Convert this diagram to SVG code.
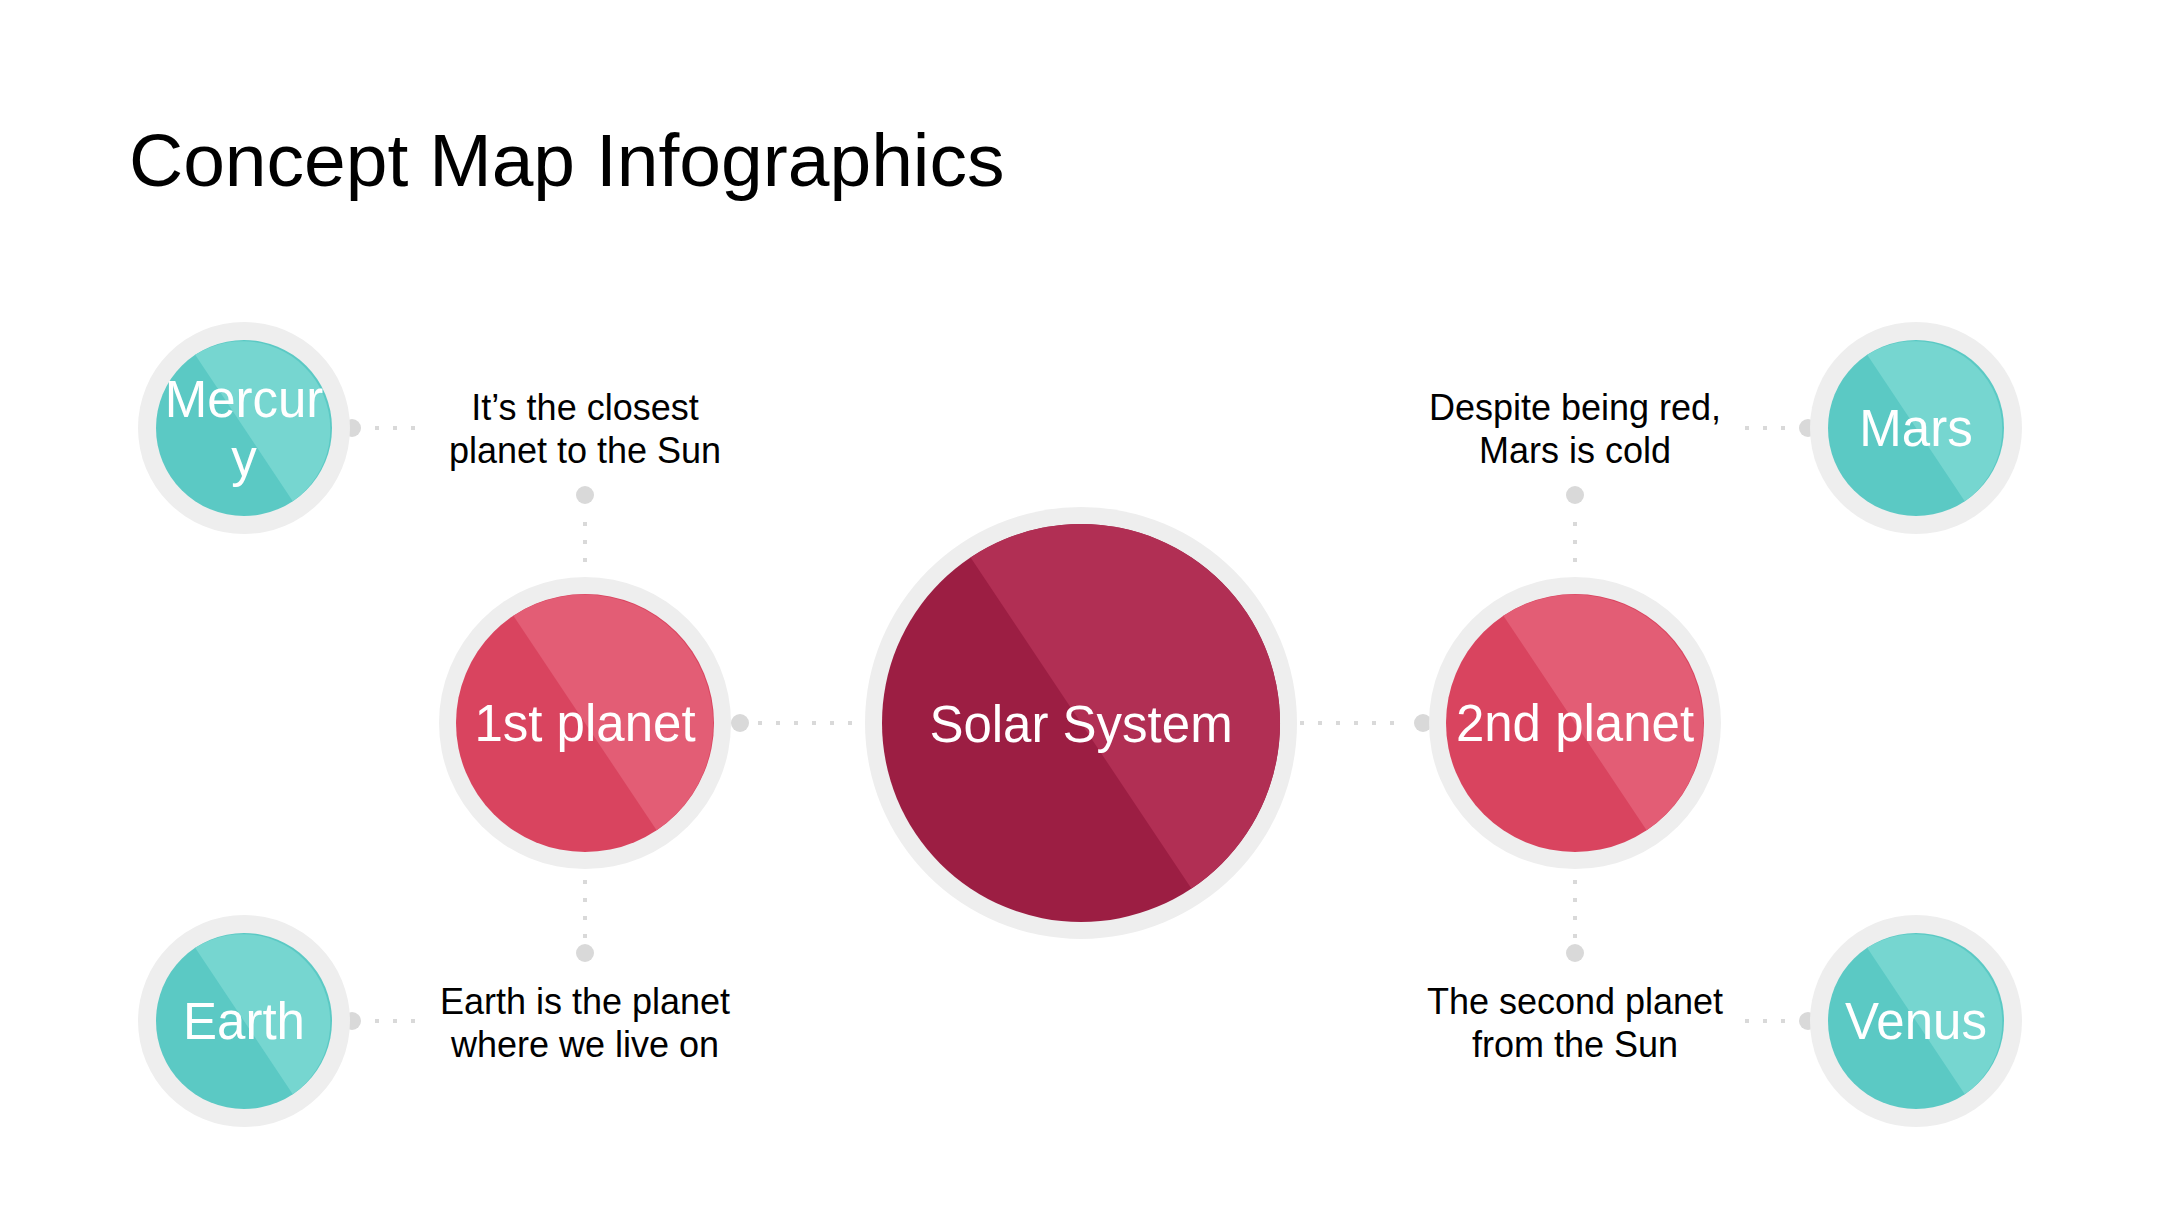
<svg xmlns="http://www.w3.org/2000/svg" width="2160" height="1215" viewBox="0 0 2160 1215">
<style>
.ring{fill:#EEEEEE}
.teal-d{fill:#5BC9C4}.teal-l{fill:#76D6D0}
.red-d{fill:#D9445F}.red-l{fill:#E35D75}
.sun-d{fill:#9C1E43}.sun-l{fill:#B12F54}
.lbl{font-family:"Liberation Sans",Arial,sans-serif;fill:#FFFFFF;text-anchor:middle;font-size:51px}
.desc{font-family:"Liberation Sans",Arial,sans-serif;fill:#000000;text-anchor:middle;font-size:36px}
.title{font-family:"Liberation Sans",Arial,sans-serif;fill:#000000;font-size:75px}
.dash{stroke:#D9D9D9;stroke-width:4;stroke-dasharray:4 14;fill:none}
.dot{fill:#D9D9D9}
</style>
<rect width="2160" height="1215" fill="#FFFFFF"/>
<text class="title" x="129" y="186">Concept Map Infographics</text>

<g id="connectors">
<line class="dash" x1="375" y1="428" x2="417" y2="428"/><circle class="dot" cx="352" cy="428" r="9"/>
<line class="dash" x1="585" y1="522" x2="585" y2="566"/><circle class="dot" cx="585" cy="495" r="9"/>
<line class="dash" x1="758" y1="723" x2="866" y2="723"/><circle class="dot" cx="740" cy="723" r="9"/>
<line class="dash" x1="1300" y1="723" x2="1408" y2="723"/><circle class="dot" cx="1423" cy="723" r="9"/>
<line class="dash" x1="585" y1="880" x2="585" y2="940"/><circle class="dot" cx="585" cy="953" r="9"/>
<line class="dash" x1="1575" y1="522" x2="1575" y2="566"/><circle class="dot" cx="1575" cy="495" r="9"/>
<line class="dash" x1="1575" y1="880" x2="1575" y2="940"/><circle class="dot" cx="1575" cy="953" r="9"/>
<line class="dash" x1="375" y1="1021" x2="417" y2="1021"/><circle class="dot" cx="352" cy="1021" r="9"/>
<line class="dash" x1="1745" y1="428" x2="1789" y2="428"/><circle class="dot" cx="1808" cy="428" r="9"/>
<line class="dash" x1="1745" y1="1021" x2="1789" y2="1021"/><circle class="dot" cx="1808" cy="1021" r="9"/>
</g>

<g id="mercury" transform="translate(244,428)">
<circle class="ring" r="106"/>
<circle class="teal-d" r="88"/>
<path class="teal-l" d="M-48.8,-73.2 A88,88 0 0 1 48.8,73.2 Z"/>
<text class="lbl" x="0" y="-11">Mercur</text>
<text class="lbl" x="0" y="48">y</text>
</g>

<g id="earth" transform="translate(244,1021)">
<circle class="ring" r="106"/>
<circle class="teal-d" r="88"/>
<path class="teal-l" d="M-48.8,-73.2 A88,88 0 0 1 48.8,73.2 Z"/>
<text class="lbl" x="0" y="18">Earth</text>
</g>

<g id="mars" transform="translate(1916,428)">
<circle class="ring" r="106"/>
<circle class="teal-d" r="88"/>
<path class="teal-l" d="M-48.8,-73.2 A88,88 0 0 1 48.8,73.2 Z"/>
<text class="lbl" x="0" y="18">Mars</text>
</g>

<g id="venus" transform="translate(1916,1021)">
<circle class="ring" r="106"/>
<circle class="teal-d" r="88"/>
<path class="teal-l" d="M-48.8,-73.2 A88,88 0 0 1 48.8,73.2 Z"/>
<text class="lbl" x="0" y="18">Venus</text>
</g>

<g id="planet1" transform="translate(585,723)">
<circle class="ring" r="146"/>
<circle class="red-d" r="129"/>
<path class="red-l" d="M-71.6,-107.3 A129,129 0 0 1 71.6,107.3 Z"/>
<text class="lbl" x="0" y="18">1st planet</text>
</g>

<g id="planet2" transform="translate(1575,723)">
<circle class="ring" r="146"/>
<circle class="red-d" r="129"/>
<path class="red-l" d="M-71.6,-107.3 A129,129 0 0 1 71.6,107.3 Z"/>
<text class="lbl" x="0" y="18">2nd planet</text>
</g>

<g id="solar" transform="translate(1081,723)">
<circle class="ring" r="216"/>
<circle class="sun-d" r="199"/>
<path class="sun-l" d="M-110.4,-165.6 A199,199 0 0 1 110.4,165.6 Z"/>
<text class="lbl" x="0" y="19">Solar System</text>
</g>

<g id="desc-mercury"><text class="desc" x="585" y="420">It’s the closest</text><text class="desc" x="585" y="463">planet to the Sun</text></g>
<g id="desc-mars"><text class="desc" x="1575" y="420">Despite being red,</text><text class="desc" x="1575" y="463">Mars is cold</text></g>
<g id="desc-earth"><text class="desc" x="585" y="1014">Earth is the planet</text><text class="desc" x="585" y="1057">where we live on</text></g>
<g id="desc-venus"><text class="desc" x="1575" y="1014">The second planet</text><text class="desc" x="1575" y="1057">from the Sun</text></g>
</svg>
